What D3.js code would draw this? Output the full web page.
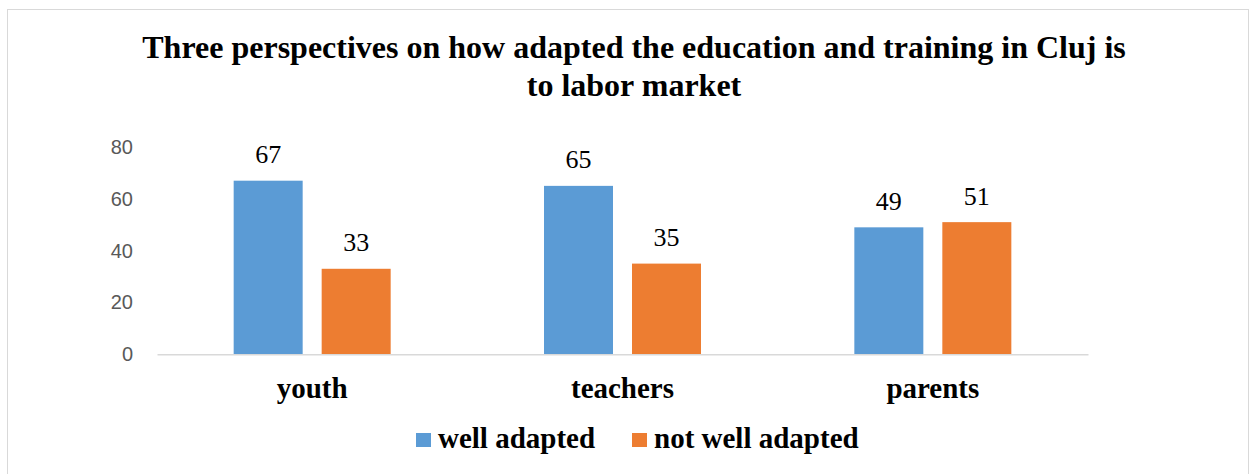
<!DOCTYPE html>
<html><head><meta charset="utf-8">
<script src="https://cdn.jsdelivr.net/npm/d3@7"></script>
<style>body{margin:0;background:#fff}svg{display:block}</style>
</head><body><div id="c"></div>
<script>
const categories = ["youth", "teachers", "parents"];
const seriesNames = ["well adapted", "not well adapted"];
const wellAdapted = [67, 65, 49];
const notWellAdapted = [33, 35, 51];
const yTicks = [0, 20, 40, 60, 80];
const colors = ["#5B9BD5", "#ED7D31"];
const titleLines = ["Three perspectives on how adapted the education and training in Cluj is", "to labor market"];

const W = 1258, H = 474;
const svg = d3.select("#c").append("svg").attr("width", W).attr("height", H);
svg.append("rect").attr("x", 7.5).attr("y", 9.5).attr("width", 1241).attr("height", 470)
  .attr("fill", "#fff").attr("stroke", "#D9D9D9").attr("stroke-width", 1);

const serif = "'Liberation Serif','Times New Roman',serif";
svg.append("text").attr("x", 634).attr("y", 58).attr("text-anchor", "middle")
  .attr("font-family", serif).attr("font-weight", "bold").attr("font-size", 32)
  .selectAll("tspan").data(titleLines).join("tspan")
  .attr("x", 634).attr("dy", (d, i) => i ? 38 : 0).text(d => d);

const x0 = d3.scaleBand().domain(categories).range([157, 1088]).paddingInner(0).paddingOuter(0);
const y = d3.scaleLinear().domain([0, 80]).range([354.3, 147]);

// y axis labels
const yAxis = d3.axisLeft(y).tickValues(yTicks).tickSize(0).tickPadding(0);
const gy = svg.append("g").attr("transform", "translate(133,0)").call(yAxis);
gy.select(".domain").remove();
gy.selectAll("text").attr("font-family", "'Liberation Sans',Arial,sans-serif").attr("font-size", 20).attr("fill", "#595959");

const series = [wellAdapted, notWellAdapted];
const barW = 69, gap = 19;
const groupW = barW * 2 + gap;
const xs = i => x0(categories[i]) + x0.bandwidth() / 2 - groupW / 2;

series.forEach((vals, s) => {
  const g = svg.append("g");
  g.selectAll("rect").data(vals).join("rect")
    .attr("x", (d, i) => xs(i) + s * (barW + gap))
    .attr("width", barW)
    .attr("y", d => y(d))
    .attr("height", d => y(0) - y(d))
    .attr("fill", colors[s]);
  g.selectAll("text").data(vals).join("text")
    .attr("x", (d, i) => xs(i) + s * (barW + gap) + barW / 2)
    .attr("y", d => y(d) - 17.5)
    .attr("text-anchor", "middle")
    .attr("font-family", serif).attr("font-size", 26).attr("fill", "#000")
    .text(d => d);
});

// x axis
const xAxis = d3.axisBottom(x0).tickSize(0).tickPadding(0);
const gx = svg.append("g").attr("transform", `translate(0,${y(0)})`).call(xAxis);
gx.select(".domain").attr("stroke", "#D9D9D9").attr("stroke-width", 1.5);
gx.selectAll("text").attr("dy", null).attr("y", 44).attr("font-family", serif).attr("font-weight", "bold").attr("font-size", 29).attr("fill", "#000");

// legend
const legendX = [416, 632];
const lg = svg.append("g");
seriesNames.forEach((n, i) => {
  lg.append("rect").attr("x", legendX[i]).attr("y", 433).attr("width", 15).attr("height", 14).attr("fill", colors[i]);
  lg.append("text").attr("x", legendX[i] + 22).attr("y", 448)
    .attr("font-family", serif).attr("font-weight", "bold").attr("font-size", 29).text(n);
});
</script></body></html>
